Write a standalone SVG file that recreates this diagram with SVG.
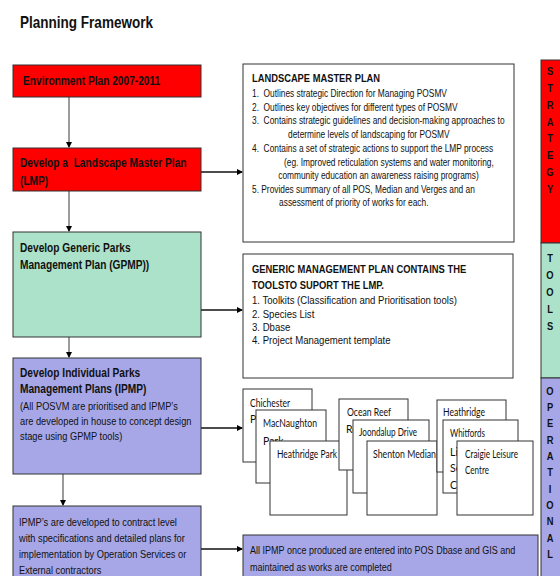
<svg xmlns="http://www.w3.org/2000/svg" width="560" height="576" viewBox="0 0 560 576">
<defs>
<marker id="ah" markerWidth="6" markerHeight="6" refX="5" refY="3" orient="auto" markerUnits="userSpaceOnUse">
<path d="M0,0 L6,3 L0,6 Z" fill="#000"/>
</marker>
<style>
.b{stroke:#333;stroke-width:1}
.red{fill:#FF0000}
.grn{fill:#ABE2C9}
.pur{fill:#A7A7E7}
.wht{fill:#fff}
.f{font-family:"Liberation Sans",Arial,sans-serif;fill:#111}
.bd{font-weight:bold}
.lb{font-size:12.4px}
.lr{font-size:11.3px}
.sm{font-size:10.2px}
.md{font-size:11.7px}
.bt{font-size:11px}
.p{font-family:Lato,"Open Sans",sans-serif;font-size:10.5px;fill:#111}
.v{font-family:"Liberation Sans",Arial,sans-serif;font-size:11px;font-weight:bold;fill:#111;text-anchor:middle}
.cv{stroke:#666;stroke-width:1.3;fill:none}
.ch{stroke:#111;stroke-width:1.3;fill:none}
</style>
</defs>
<rect width="560" height="576" fill="#fff"/>
<g transform="translate(20 0) scale(0.82 1)">
<text class="f bd" x="0" y="28" font-size="16.5">Planning Framework</text>
</g>

<g id="strip-strategy">
<rect x="541" y="60" width="20" height="183" class="red b"/>
<g transform="translate(550 0) scale(0.85 1)">
<text class="v" x="0" y="75">S</text><text class="v" x="0" y="92">T</text><text class="v" x="0" y="109">R</text><text class="v" x="0" y="126">A</text><text class="v" x="0" y="142">T</text><text class="v" x="0" y="159">E</text><text class="v" x="0" y="176">G</text><text class="v" x="0" y="193">Y</text>
</g>
</g>
<g id="strip-tools">
<rect x="541" y="243" width="20" height="135" class="grn b"/>
<g transform="translate(550 0) scale(0.85 1)">
<text class="v" x="0" y="262">T</text><text class="v" x="0" y="279">O</text><text class="v" x="0" y="296">O</text><text class="v" x="0" y="313">L</text><text class="v" x="0" y="330">S</text>
</g>
</g>
<g id="strip-operational">
<rect x="541" y="378" width="20" height="200" class="pur b"/>
<g transform="translate(550 0) scale(0.85 1)">
<text class="v" x="0" y="395">O</text><text class="v" x="0" y="411">P</text><text class="v" x="0" y="427">E</text><text class="v" x="0" y="444">R</text><text class="v" x="0" y="460">A</text><text class="v" x="0" y="476">T</text><text class="v" x="0" y="493">I</text><text class="v" x="0" y="509">O</text><text class="v" x="0" y="525">N</text><text class="v" x="0" y="542">A</text><text class="v" x="0" y="558">L</text>
</g>
</g>

<g id="connectors">
<line class="cv" x1="69" y1="97" x2="69" y2="147" marker-end="url(#ah)"/>
<line class="cv" x1="69" y1="191" x2="69" y2="231" marker-end="url(#ah)"/>
<line class="cv" x1="69" y1="337" x2="69" y2="357" marker-end="url(#ah)"/>
<line class="cv" x1="63" y1="474" x2="63" y2="505" marker-end="url(#ah)"/>
<line class="ch" x1="201" y1="172" x2="242" y2="172" marker-end="url(#ah)"/>
<line class="ch" x1="201" y1="310" x2="242" y2="310" marker-end="url(#ah)"/>
<line class="ch" x1="201" y1="428" x2="242" y2="428" marker-end="url(#ah)"/>
<line class="ch" x1="201" y1="549" x2="242" y2="549" marker-end="url(#ah)"/>
</g>

<g id="env-plan">
<rect x="13" y="65" width="188" height="32" class="red b"/>
<g transform="translate(23 0) scale(0.82 1)">
<text class="f bd lb" x="0" y="85">Environment Plan 2007-2011</text>
</g>
</g>
<g id="lmp">
<rect x="13" y="148" width="188" height="43" class="red b"/>
<g transform="translate(20 0) scale(0.82 1)">
<text class="f bd lb" x="0" y="167" xml:space="preserve">Develop a  Landscape Master Plan</text>
<text class="f bd lb" x="0" y="185">(LMP)</text>
</g>
</g>
<g id="gpmp">
<rect x="13" y="232" width="188" height="105" class="grn b"/>
<g transform="translate(20 0) scale(0.82 1)">
<text class="f bd lb" x="0" y="252">Develop Generic Parks</text>
<text class="f bd lb" x="0" y="269">Management Plan (GPMP))</text>
</g>
</g>
<g id="ipmp">
<rect x="13" y="358" width="188" height="116" class="pur b"/>
<g transform="translate(20 0) scale(0.82 1)">
<text class="f bd lb" x="0" y="377">Develop Individual Parks</text>
<text class="f bd lb" x="0" y="393">Management Plans (IPMP)</text>
<text class="f lr" x="0" y="410">(All POSVM are prioritised and IPMP’s</text>
<text class="f lr" x="0" y="425">are developed in house to concept design</text>
<text class="f lr" x="0" y="440">stage using GPMP tools)</text>
</g>
</g>
<g id="ipmp-contract">
<rect x="13" y="506" width="188" height="72" class="pur b"/>
<g transform="translate(19 0) scale(0.82 1)">
<text class="f lr" x="0" y="526">IPMP’s are developed to contract level</text>
<text class="f lr" x="0" y="542">with specifications and detailed plans for</text>
<text class="f lr" x="0" y="558">implementation by Operation Services or</text>
<text class="f lr" x="0" y="574">External contractors</text>
</g>
</g>

<g id="lmp-detail">
<rect x="243" y="64" width="271" height="178" class="wht b"/>
<g transform="translate(252 0) scale(0.82 1)">
<text class="f bd" x="0" y="82" font-size="11.4">LANDSCAPE MASTER PLAN</text>
<text class="f sm" x="0" y="97" xml:space="preserve">1.  Outlines strategic Direction for Managing POSMV</text>
<text class="f sm" x="0" y="111" xml:space="preserve">2.  Outlines key objectives for different types of POSMV</text>
<text class="f sm" x="0" y="124" xml:space="preserve">3.  Contains strategic guidelines and decision-making approaches to</text>
<text class="f sm" x="44" y="138">determine levels of landscaping for POSMV</text>
<text class="f sm" x="0" y="152" xml:space="preserve">4.  Contains a set of strategic actions to support the LMP process</text>
<text class="f sm" x="39" y="166">(eg. Improved reticulation systems and water monitoring,</text>
<text class="f sm" x="32" y="179">community education an awareness raising programs)</text>
<text class="f sm" x="0" y="193">5. Provides summary of all POS, Median and Verges and an</text>
<text class="f sm" x="33" y="206">assessment of priority of works for each.</text>
</g>
</g>

<g id="gmp-detail">
<rect x="243" y="254" width="270" height="124" class="wht b"/>
<g transform="translate(252 0) scale(0.82 1)">
<text class="f bd" x="0" y="273" font-size="11.45">GENERIC MANAGEMENT PLAN CONTAINS THE</text>
<text class="f bd" x="0" y="289" font-size="11.45">TOOLSTO SUPORT THE LMP.</text>
<text class="f md" x="0" y="304">1. Toolkits (Classification and Prioritisation tools)</text>
<text class="f md" x="0" y="318">2. Species List</text>
<text class="f md" x="0" y="331">3. Dbase</text>
<text class="f md" x="0" y="344">4. Project Management template</text>
</g>
</g>

<g id="park-chichester">
<rect x="243" y="389" width="69" height="73" class="wht b"/>
<text class="p" x="250" y="407" textLength="40" lengthAdjust="spacingAndGlyphs">Chichester</text>
<text class="p" x="250" y="423">Pa</text>
</g>
<g id="park-macnaughton">
<rect x="256" y="410" width="70" height="73" class="wht b"/>
<text class="p" x="263" y="427" textLength="54" lengthAdjust="spacingAndGlyphs">MacNaughton</text>
<text class="p" x="263" y="445">Park</text>
</g>
<g id="park-heathridge">
<rect x="270" y="441" width="77" height="74" class="wht b"/>
<text class="p" x="277" y="458" textLength="60" lengthAdjust="spacingAndGlyphs">Heathridge Park</text>
</g>
<g id="park-ocean-reef">
<rect x="339" y="399" width="69" height="71" class="wht b"/>
<text class="p" x="347" y="416" textLength="44" lengthAdjust="spacingAndGlyphs">Ocean Reef</text>
<text class="p" x="346" y="433">Ro</text>
</g>
<g id="park-joondalup">
<rect x="353" y="420" width="76" height="73" class="wht b"/>
<text class="p" x="359" y="436" textLength="58" lengthAdjust="spacingAndGlyphs">Joondalup Drive</text>
</g>
<g id="park-shenton">
<rect x="367" y="441" width="70" height="74" class="wht b"/>
<text class="p" x="373" y="458" textLength="63" lengthAdjust="spacingAndGlyphs">Shenton Median</text>
</g>
<g id="park-heathridge-lib">
<rect x="437" y="400" width="69" height="72" class="wht b"/>
<text class="p" x="443" y="416" textLength="42" lengthAdjust="spacingAndGlyphs">Heathridge</text>
</g>
<g id="park-whitfords">
<rect x="443" y="420" width="75" height="73" class="wht b"/>
<text class="p" x="450" y="437" textLength="35" lengthAdjust="spacingAndGlyphs">Whitfords</text>
<text class="p" x="450" y="456">Li</text>
<text class="p" x="450" y="472">Se</text>
<text class="p" x="450" y="489">Ce</text>
</g>
<g id="park-craigie">
<rect x="457" y="441" width="76" height="74" class="wht b"/>
<text class="p" x="465" y="458" textLength="53" lengthAdjust="spacingAndGlyphs">Craigie Leisure</text>
<text class="p" x="465" y="474" textLength="24" lengthAdjust="spacingAndGlyphs">Centre</text>
</g>

<g id="pos-dbase">
<rect x="243" y="535" width="295" height="43" class="pur b"/>
<g transform="translate(250 0) scale(0.82 1)">
<text class="f bt" x="0" y="554">All IPMP once produced are entered into POS Dbase and GIS and</text>
<text class="f bt" x="0" y="571">maintained as works are completed</text>
</g>
</g>
</svg>
